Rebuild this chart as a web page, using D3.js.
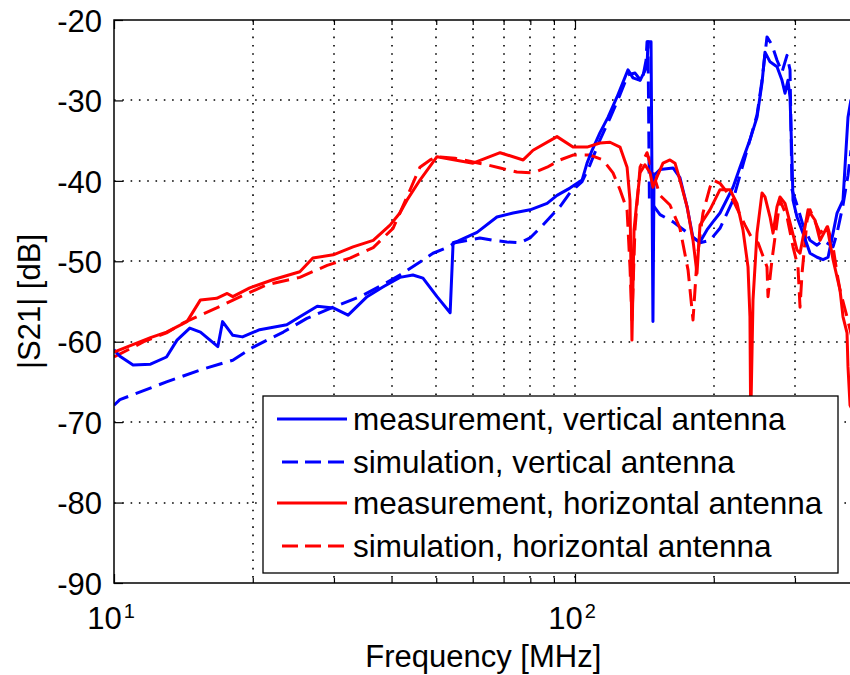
<!DOCTYPE html>
<html>
<head>
<meta charset="utf-8">
<script src="https://cdn.jsdelivr.net/npm/d3@7/dist/d3.min.js"></script>
<style>
  html, body { margin: 0; padding: 0; background: #fff; }
  svg { display: block; }
  text { font-family: "Liberation Sans", Arial, Helvetica, sans-serif; fill: #000; }
</style>
</head>
<body>
<svg id="chart" width="850" height="675"></svg>
<script>
// |S21| versus frequency: measured and simulated coupling, vertical and horizontal antennas

const yTickValues = [-90, -80, -70, -60, -50, -40, -30, -20];
const xMajorTicks = [10, 100];
const xMinorTicks = [20, 30, 40, 50, 60, 70, 80, 90, 200, 300, 400];
const xTickExponents = ["1", "2"];

// measurement, vertical antenna
const freqMeasV = [10, 10.3, 11.0, 12.0, 13.0, 13.7, 14.6, 15.4, 16.8, 17.2, 18.1, 19.0, 20.7, 23.7, 25.3, 27.6, 29.9, 32.2, 35.4, 38.3, 41.7, 44.5, 46.8, 50.2, 53.6, 54.4, 55.7, 61.3, 67.7, 73.4, 79.9, 87.0, 91.4, 97.5, 103.6, 106.2, 108.9, 113.3, 117.9, 123.3, 130.3, 133.6, 138.4, 143.3, 144.0, 146.2, 147.6, 148.4, 152.9, 163.2, 168.9, 175.0, 180.3, 186.7, 193.3, 199.2, 206.3, 220.2, 228.0, 239.6, 248.2, 254.5, 258.3, 264.9, 274.3, 281.2, 285.5, 289.7, 292.7, 295.6, 297.1, 303.1, 312.3, 323.5, 335.0, 345.2, 354.0, 362.9, 370.2, 381.4, 387.1, 391.0, 396.9];
const dbMeasV = [-61.0, -61.8, -62.9, -62.8, -61.9, -59.8, -58.3, -58.8, -60.6, -57.5, -59.2, -59.4, -58.5, -57.9, -56.9, -55.6, -55.8, -56.7, -54.4, -53.2, -52.0, -51.7, -52.1, -54.4, -56.4, -47.7, -47.5, -46.4, -44.5, -44.0, -43.6, -42.8, -41.8, -40.9, -39.9, -37.8, -36.2, -34.0, -32.1, -29.6, -26.2, -27.2, -27.5, -25.8, -22.7, -22.7, -57.5, -39.3, -38.6, -38.4, -39.6, -43.2, -47.1, -47.6, -46.1, -45.1, -44.0, -40.8, -38.3, -34.9, -32.1, -27.8, -24.0, -25.2, -25.8, -27.5, -29.1, -27.5, -29.6, -37.4, -42.4, -44.5, -46.5, -49.0, -49.5, -49.8, -49.5, -46.5, -44.0, -42.4, -36.2, -32.1, -29.9];

// simulation, vertical antenna
const freqSimV = [10, 10.3, 13.0, 15.4, 18.1, 20.0, 23.3, 26.2, 29.9, 34.2, 38.3, 41.7, 46.1, 49.2, 52.8, 54.9, 62.2, 66.4, 71.2, 76.0, 79.9, 85.2, 92.8, 97.5, 103.6, 107.8, 113.3, 119.1, 125.2, 130.3, 135.0, 139.7, 142.6, 143.3, 144.0, 145.0, 147.6, 152.9, 163.2, 175.0, 186.7, 196.2, 206.3, 220.2, 228.0, 239.6, 248.2, 254.5, 260.9, 267.5, 274.3, 281.2, 288.3, 292.7, 295.6, 303.1, 312.3, 323.5, 335.0, 345.2, 362.9, 370.2, 381.4, 391.0, 396.9];
const dbSimV = [-67.9, -67.2, -65.0, -63.5, -62.3, -60.7, -58.8, -57.1, -55.7, -54.4, -52.9, -51.7, -50.1, -49.0, -48.3, -47.7, -47.1, -47.4, -47.6, -47.7, -47.1, -45.5, -43.2, -41.5, -40.1, -38.0, -34.9, -32.2, -29.3, -26.8, -26.6, -27.7, -25.0, -22.7, -22.7, -42.4, -43.0, -44.2, -45.1, -46.4, -47.7, -47.4, -45.9, -42.4, -39.3, -34.9, -31.8, -27.5, -22.1, -23.1, -25.0, -26.5, -24.4, -26.2, -41.1, -43.0, -45.5, -47.4, -48.0, -47.4, -48.2, -46.5, -43.0, -39.3, -36.2];

// measurement, horizontal antenna
const freqMeasH = [10, 12.0, 13.0, 14.4, 15.4, 16.7, 17.6, 18.1, 19.7, 22.1, 25.3, 27.0, 29.9, 33.0, 36.5, 39.7, 41.7, 43.2, 46.1, 50.2, 54.9, 60.1, 68.8, 77.2, 81.1, 91.4, 99.0, 106.2, 113.3, 119.1, 125.2, 129.7, 131.6, 132.9, 134.3, 136.3, 138.4, 141.8, 145.5, 147.6, 150.6, 155.2, 160.7, 164.8, 168.9, 175.0, 180.3, 183.9, 186.7, 196.2, 206.3, 216.9, 224.6, 231.4, 237.3, 239.6, 240.5, 243.3, 248.2, 254.5, 258.3, 264.9, 268.9, 274.3, 278.4, 285.5, 292.7, 303.1, 307.7, 315.5, 320.3, 331.7, 340.1, 352.3, 362.9, 375.8, 381.4, 389.1, 391.0, 395.0, 400];
const dbMeasH = [-61.3, -59.5, -58.8, -57.5, -54.8, -54.6, -54.0, -54.4, -53.3, -52.3, -51.3, -49.6, -49.2, -48.2, -47.4, -45.5, -44.0, -42.4, -39.9, -37.0, -37.4, -37.8, -36.5, -37.4, -36.2, -34.5, -35.8, -35.8, -35.3, -35.2, -35.8, -38.3, -42.4, -59.8, -46.1, -42.4, -39.0, -38.0, -39.0, -40.8, -39.5, -37.8, -37.4, -37.8, -39.9, -43.2, -47.4, -51.5, -45.5, -43.6, -41.1, -41.1, -42.8, -46.1, -50.7, -56.9, -70.0, -54.8, -46.5, -41.5, -42.0, -44.5, -46.5, -43.2, -42.0, -42.8, -45.2, -48.6, -49.0, -45.7, -43.6, -44.9, -47.4, -45.7, -49.8, -53.6, -56.9, -58.9, -63.1, -67.9, -68.5];

// simulation, horizontal antenna
const freqSimH = [10, 11.6, 13.0, 14.1, 15.4, 16.7, 18.8, 21.5, 25.3, 29.0, 32.5, 36.5, 40.3, 43.2, 46.1, 48.5, 50.2, 54.9, 64.4, 68.8, 74.8, 81.1, 87.0, 92.8, 99.0, 107.8, 115.0, 120.9, 125.2, 129.7, 131.6, 132.9, 134.9, 138.4, 143.3, 146.9, 152.9, 160.7, 168.9, 175.9, 180.3, 183.9, 189.5, 196.2, 199.2, 206.3, 220.2, 233.8, 243.3, 249.5, 260.9, 262.2, 267.5, 278.4, 288.4, 297.1, 304.6, 307.7, 310.8, 318.7, 323.5, 340.1, 352.3, 362.9, 370.2, 375.8, 389.1, 400];
const dbSimH = [-61.9, -60.0, -58.9, -57.7, -56.7, -55.8, -54.4, -52.9, -52.0, -50.5, -49.6, -48.3, -45.9, -42.0, -38.3, -37.4, -37.0, -37.2, -38.0, -38.4, -38.9, -39.0, -38.3, -37.4, -36.8, -36.8, -37.4, -39.0, -41.1, -43.6, -50.7, -57.3, -46.1, -38.3, -36.5, -38.6, -41.8, -43.0, -45.9, -51.1, -57.3, -49.8, -44.0, -40.8, -39.9, -40.3, -42.4, -45.5, -47.4, -47.7, -50.7, -54.4, -49.8, -42.4, -44.5, -48.2, -50.7, -55.7, -51.5, -44.9, -43.6, -46.5, -45.5, -48.2, -51.5, -53.6, -56.9, -59.8];

const seriesLabels = [
  "measurement, vertical antenna",
  "simulation, vertical antenna",
  "measurement, horizontal antenna",
  "simulation, horizontal antenna"
];

const xLabel = "Frequency [MHz]";
const yLabel = "|S21| [dB]";

// ---- layout ----
const svg = d3.select("#chart");
const plot = { left: 114, top: 20, bottom: 583 };
const x = d3.scaleLog().domain([10, 400]).range([plot.left, plot.left + 461 * Math.log10(40)]);
const y = d3.scaleLinear().domain([-90, -20]).range([plot.bottom, plot.top]);
plot.right = x.range()[1];

const FONT = 31;

svg.append("defs").append("clipPath").attr("id", "plotClip")
  .append("rect")
  .attr("x", plot.left).attr("y", plot.top)
  .attr("width", plot.right - plot.left).attr("height", plot.bottom - plot.top);

// ---- dotted grid ----
const grid = svg.append("g").attr("class", "grid")
  .attr("stroke", "#000").attr("stroke-width", 1.6)
  .attr("stroke-dasharray", "1.6,6.7").attr("fill", "none");

grid.selectAll("line.vx")
  .data(xMinorTicks.concat(xMajorTicks.filter(d => d > 10)))
  .join("line")
  .attr("x1", d => Math.round(x(d))).attr("x2", d => Math.round(x(d)))
  .attr("y1", plot.top).attr("y2", plot.bottom);

grid.selectAll("line.hy")
  .data(yTickValues.filter(d => d > -90 && d < -20))
  .join("line")
  .attr("y1", d => Math.round(y(d))).attr("y2", d => Math.round(y(d)))
  .attr("x1", plot.left).attr("x2", plot.right);

// ---- data lines ----
const series = [
  { f: freqMeasV, v: dbMeasV, color: "#0000ff", dash: null },
  { f: freqSimV,  v: dbSimV,  color: "#0000ff", dash: "17,8" },
  { f: freqMeasH, v: dbMeasH, color: "#ff0000", dash: null },
  { f: freqSimH,  v: dbSimH,  color: "#ff0000", dash: "17,8" }
];

const line = d3.line()
  .x(d => x(d[0]))
  .y(d => y(d[1]));

const dataG = svg.append("g").attr("clip-path", "url(#plotClip)");
// draw simulations first so that the measurements sit on top where they overlap
[1, 3, 0, 2].forEach(i => {
  const s = series[i];
  const pts = s.f.map((f, k) => [f, s.v[k]]);
  dataG.append("path")
    .attr("d", line(pts))
    .attr("fill", "none")
    .attr("stroke", s.color)
    .attr("stroke-width", 3)
    .attr("stroke-linejoin", "round")
    .attr("stroke-dasharray", s.dash);
});

// ---- axes ----
const axisStyle = g => {
  g.select(".domain").remove();
  g.selectAll(".tick line").attr("stroke", "#000").attr("stroke-width", 1.2);
  g.selectAll(".tick text").style("font-size", FONT + "px");
};

svg.append("g")
  .attr("transform", `translate(${plot.left},0)`)
  .call(d3.axisLeft(y).tickValues(yTickValues).tickSizeInner(-9).tickSizeOuter(0).tickPadding(12).tickFormat(d => String(d)))
  .call(axisStyle)
  .call(g => g.selectAll(".tick text").attr("dy", "0.36em"));

svg.append("g")
  .attr("transform", `translate(0,${plot.bottom})`)
  .call(d3.axisBottom(x).tickValues(xMajorTicks).tickSizeInner(-9).tickSizeOuter(0).tickFormat(""))
  .call(axisStyle);
svg.append("g")
  .attr("transform", `translate(0,${plot.bottom})`)
  .call(d3.axisBottom(x).tickValues(xMinorTicks).tickSizeInner(-5).tickSizeOuter(0).tickFormat(""))
  .call(axisStyle);
svg.append("g")
  .attr("transform", `translate(0,${plot.top})`)
  .call(d3.axisTop(x).tickValues(xMajorTicks).tickSizeInner(-9).tickSizeOuter(0).tickFormat(""))
  .call(axisStyle);
svg.append("g")
  .attr("transform", `translate(0,${plot.top})`)
  .call(d3.axisTop(x).tickValues(xMinorTicks).tickSizeInner(-5).tickSizeOuter(0).tickFormat(""))
  .call(axisStyle);

// power-of-ten tick labels
const xl = svg.append("g").selectAll("text")
  .data(xMajorTicks)
  .join("text")
  .attr("x", d => x(d) - 3)
  .attr("y", plot.bottom + 46)
  .attr("text-anchor", "middle")
  .style("font-size", FONT + "px");
xl.append("tspan").text("10");
xl.append("tspan")
  .attr("dy", "-0.55em").attr("dx", "2")
  .style("font-size", "20px")
  .text((d, i) => xTickExponents[i]);

// axes box
svg.append("rect")
  .attr("x", plot.left).attr("y", plot.top)
  .attr("width", plot.right - plot.left).attr("height", plot.bottom - plot.top)
  .attr("fill", "none").attr("stroke", "#000").attr("stroke-width", 1.5);

// axis titles
svg.append("text")
  .attr("x", (plot.left + plot.right) / 2)
  .attr("y", 667)
  .attr("text-anchor", "middle")
  .style("font-size", FONT + "px")
  .text(xLabel);

svg.append("text")
  .attr("transform", `translate(40,${(plot.top + plot.bottom) / 2}) rotate(-90)`)
  .attr("text-anchor", "middle")
  .style("font-size", FONT + "px")
  .text(yLabel);

// ---- legend ----
const legend = svg.append("g").attr("transform", "translate(263,396)");
legend.append("rect")
  .attr("width", 575).attr("height", 177)
  .attr("fill", "#fff").attr("stroke", "#000").attr("stroke-width", 1.3);

const rowY = [23, 66, 107, 150];
const items = legend.selectAll("g.item")
  .data(series)
  .join("g")
  .attr("transform", (d, i) => `translate(0,${rowY[i]})`);
items.append("line")
  .attr("x1", (d) => d.dash ? 19 : 14).attr("x2", 84)
  .attr("stroke", d => d.color).attr("stroke-width", 3)
  .attr("stroke-dasharray", d => d.dash ? "16,7" : null);
items.append("text")
  .attr("x", 90)
  .attr("dy", "0.36em")
  .style("font-size", "31.5px")
  .text((d, i) => seriesLabels[i]);
</script>
</body>
</html>
